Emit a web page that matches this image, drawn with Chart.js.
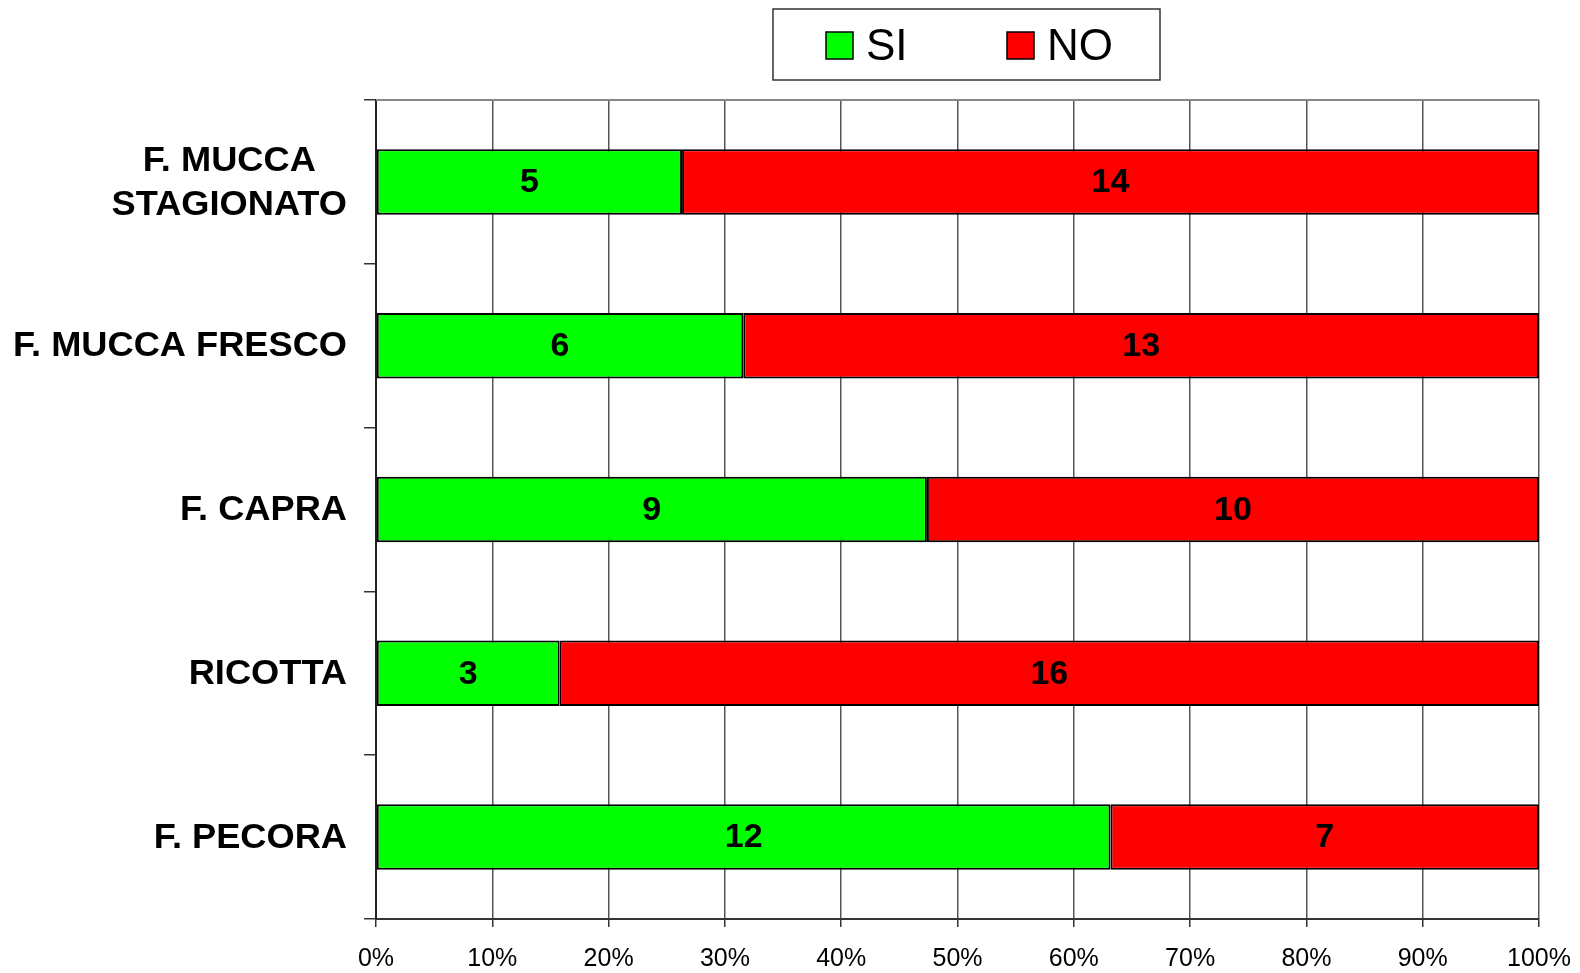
<!DOCTYPE html>
<html>
<head>
<meta charset="utf-8">
<script src="https://cdn.jsdelivr.net/npm/chart.js@4"></script>
<style>
  html, body { margin: 0; padding: 0; background: #fff; }
  #wrap { width: 1580px; height: 973px; }
</style>
</head>
<body>
<div id="wrap"><canvas id="chart"></canvas></div>
<script>
// Data
const categories = [['F. MUCCA', 'STAGIONATO'], 'F. MUCCA FRESCO', 'F. CAPRA', 'RICOTTA', 'F. PECORA'];
const siCounts = [5, 6, 9, 3, 12];
const noCounts = [14, 13, 10, 16, 7];
const xTicks = [0, 10, 20, 30, 40, 50, 60, 70, 80, 90, 100];

const font = '"Liberation Sans", Arial, sans-serif';

// counts -> percentage of row total
function pct(counts, i) {
    return counts[i] / (siCounts[i] + noCounts[i]) * 100;
}

const datasets = [
    { label: 'SI', counts: siCounts, color: '#00ff00' },
    { label: 'NO', counts: noCounts, color: '#ff0000' }
].map(s => ({
    label: s.label,
    counts: s.counts,
    data: s.counts.map((c, i) => pct(s.counts, i)),
    backgroundColor: s.color,
    borderColor: '#000',
    borderWidth: 2,
    borderSkipped: false,
    barPercentage: 0.4,
    categoryPercentage: 1.0
}));

// Draws count labels, y labels, legend box and top border
const extras = {
    id: 'extras',
    afterDatasetsDraw(chart) {
        const ctx = chart.ctx;
        ctx.save();
        ctx.font = 'bold 34px ' + font;
        ctx.fillStyle = '#000';
        ctx.textAlign = 'center';
        ctx.textBaseline = 'middle';
        chart.data.datasets.forEach((ds, di) => {
            chart.getDatasetMeta(di).data.forEach((bar, i) => {
                const p = bar.getProps(['x', 'y', 'base'], true);
                ctx.fillText(String(ds.counts[i]), (p.x + p.base) / 2, p.y + 1);
            });
        });
        ctx.restore();
    },
    afterDraw(chart) {
        const ctx = chart.ctx;
        const area = chart.chartArea;
        const yScale = chart.scales.y;
        ctx.save();

        // top border of plot
        ctx.strokeStyle = '#888';
        ctx.lineWidth = 2;
        ctx.beginPath();
        ctx.moveTo(area.left, area.top);
        ctx.lineTo(area.right, area.top);
        ctx.stroke();

        // category labels: right-aligned block, lines centred within it
        const sx = 1.035;
        ctx.font = 'bold 35px ' + font;
        ctx.fillStyle = '#000';
        ctx.textBaseline = 'middle';
        ctx.textAlign = 'center';
        const rightEdge = 347;
        const lineH = 44;
        categories.forEach((cat, i) => {
            const lines = Array.isArray(cat) ? cat : [cat];
            const w = Math.max(...lines.map(l => ctx.measureText(l).width)) * sx;
            const cy = yScale.getPixelForValue(i);
            lines.forEach((l, k) => {
                const y = cy + (k - (lines.length - 1) / 2) * lineH + 1;
                ctx.save();
                ctx.translate(rightEdge - w / 2, y);
                ctx.scale(sx, 1);
                ctx.fillText(l, 0, 0);
                ctx.restore();
            });
        });

        // legend
        const lx = 773, ly = 9, lw = 387, lh = 71;
        ctx.strokeStyle = '#333';
        ctx.lineWidth = 1.5;
        ctx.strokeRect(lx, ly, lw, lh);
        ctx.font = '44px ' + font;
        ctx.textAlign = 'left';
        const items = [{ x: 826 }, { x: 1007 }];
        chart.data.datasets.forEach((ds, di) => {
            const bx = items[di].x, by = 32;
            ctx.fillStyle = ds.backgroundColor;
            ctx.fillRect(bx, by, 27, 27);
            ctx.strokeStyle = '#000';
            ctx.lineWidth = 1.5;
            ctx.strokeRect(bx, by, 27, 27);
            ctx.fillStyle = '#000';
            ctx.fillText(ds.label, bx + 40, by + 16);
        });
        ctx.restore();
    }
};

new Chart(document.getElementById('chart'), {
    type: 'bar',
    data: { labels: categories, datasets: datasets },
    options: {
        indexAxis: 'y',
        responsive: true,
        maintainAspectRatio: false,
        animation: false,
        layout: { padding: { top: 100, right: 41, bottom: 0, left: 0 } },
        plugins: {
            legend: { display: false },
            tooltip: { enabled: false }
        },
        scales: {
            x: {
                stacked: true,
                min: 0,
                max: 100,
                afterBuildTicks(scale) {
                    scale.ticks = xTicks.map(v => ({ value: v }));
                },
                afterFit(scale) {
                    scale.height = 54;
                    scale.paddingLeft = 0;
                    scale.paddingRight = 0;
                },
                grid: { color: '#555', lineWidth: 1.5, tickLength: 8, tickColor: '#333' },
                border: { color: '#333', width: 2 },
                ticks: {
                    color: '#000',
                    font: { family: font, size: 25 },
                    padding: 17,
                    callback: v => v + '%'
                }
            },
            y: {
                stacked: true,
                afterFit(scale) { scale.width = 376; },
                grid: { drawOnChartArea: false, tickLength: 12, color: '#333', lineWidth: 1.5 },
                border: { color: '#222', width: 2 },
                ticks: { display: false }
            }
        }
    },
    plugins: [extras]
});
</script>
</body>
</html>
